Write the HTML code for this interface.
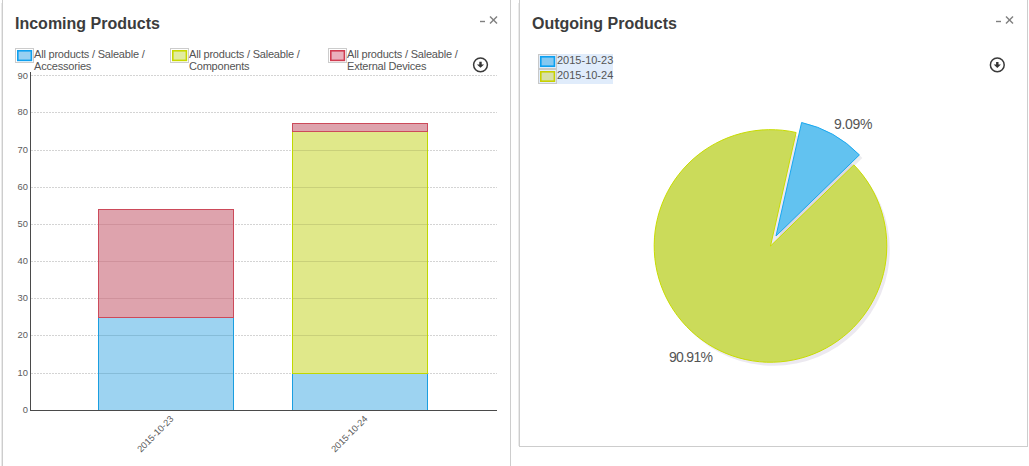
<!DOCTYPE html>
<html><head><meta charset="utf-8">
<style>
html,body{margin:0;padding:0;background:#fff;}
body{width:1029px;height:466px;position:relative;overflow:hidden;font-family:"Liberation Sans",sans-serif;color:#545454;}
.abs{position:absolute;white-space:nowrap;}
.title{font-size:16px;font-weight:bold;color:#3c3c3c;}
.lg{font-size:11px;line-height:12px;color:#545454;letter-spacing:-0.2px;}
.ylab{font-size:9.4px;line-height:10px;color:#5c5c5c;text-align:right;width:20px;}
.ctl{font-size:12px;color:#999;}
</style></head><body>
<!-- panels -->
<div class="abs" style="left:1px;top:3px;width:1px;height:463px;background:#eaeaea"></div>
<div class="abs" style="left:2px;top:0;width:1px;height:466px;background:#cdcdcd"></div>
<div class="abs" style="left:510px;top:0;width:1px;height:466px;background:#cdcdcd"></div>
<div class="abs" style="left:518px;top:3px;width:1px;height:443px;background:#eaeaea"></div>
<div class="abs" style="left:519px;top:-10px;width:507px;height:456px;border:1px solid #cdcdcd;border-top:none"></div>

<div class="abs title" style="left:15px;top:15px">Incoming Products</div>
<div class="abs title" style="left:532px;top:15px">Outgoing Products</div>

<svg class="abs" style="left:0;top:0" width="1029" height="466" viewBox="0 0 1029 466">
  <!-- controls -->
  <g stroke="#808080" stroke-width="1.4" fill="none">
    <line x1="480" y1="21.5" x2="485" y2="21.5"/>
    <line x1="490" y1="16.5" x2="497" y2="23.5"/><line x1="497" y1="16.5" x2="490" y2="23.5"/>
    <line x1="996" y1="21.5" x2="1001" y2="21.5"/>
    <line x1="1006" y1="16.5" x2="1013" y2="23.5"/><line x1="1013" y1="16.5" x2="1006" y2="23.5"/>
  </g>
  <!-- download icons -->
  <g>
    <circle cx="480.5" cy="64.8" r="6.9" fill="none" stroke="#3a3a3a" stroke-width="1.5"/>
    <path d="M479.3 61.8h2.4v2.6h2.4l-3.6 3.4-3.6-3.4h2.4z" fill="#333"/>
    <circle cx="997.3" cy="64.9" r="6.9" fill="none" stroke="#3a3a3a" stroke-width="1.5"/>
    <path d="M996.1 61.9h2.4v2.6h2.4l-3.6 3.4-3.6-3.4h2.4z" fill="#333"/>
  </g>
  <!-- grid -->
  <g stroke="#d4d4d4" stroke-width="1" stroke-dasharray="2,1">
    <line x1="31" y1="75.5" x2="497" y2="75.5"/>
    <line x1="31" y1="112.5" x2="497" y2="112.5"/>
    <line x1="31" y1="150.5" x2="497" y2="150.5"/>
    <line x1="31" y1="187.5" x2="497" y2="187.5"/>
    <line x1="31" y1="224.5" x2="497" y2="224.5"/>
    <line x1="31" y1="261.5" x2="497" y2="261.5"/>
    <line x1="31" y1="298.5" x2="497" y2="298.5"/>
    <line x1="31" y1="335.5" x2="497" y2="335.5"/>
    <line x1="31" y1="373.5" x2="497" y2="373.5"/>
  </g>
  <!-- bars -->
  <rect x="98" y="317" width="136" height="94" fill="#9dd3f1"/>
  <rect x="98" y="209" width="136" height="108" fill="#dea3ad"/>
  <rect x="292" y="373" width="136" height="38" fill="#9dd3f1"/>
  <rect x="292" y="131" width="136" height="242" fill="#e0e88a"/>
  <rect x="292" y="123" width="136" height="8" fill="#dea3ad"/>
  <g stroke-width="1">
    <line x1="99" y1="224.5" x2="233" y2="224.5" stroke="#cf929c"/>
    <line x1="99" y1="261.5" x2="233" y2="261.5" stroke="#cf929c"/>
    <line x1="99" y1="298.5" x2="233" y2="298.5" stroke="#cf929c"/>
    <line x1="99" y1="335.5" x2="233" y2="335.5" stroke="#86bcd8"/>
    <line x1="99" y1="373.5" x2="233" y2="373.5" stroke="#86bcd8"/>
    <line x1="293" y1="150.5" x2="427" y2="150.5" stroke="#c9d07a"/>
    <line x1="293" y1="187.5" x2="427" y2="187.5" stroke="#c9d07a"/>
    <line x1="293" y1="224.5" x2="427" y2="224.5" stroke="#c9d07a"/>
    <line x1="293" y1="261.5" x2="427" y2="261.5" stroke="#c9d07a"/>
    <line x1="293" y1="298.5" x2="427" y2="298.5" stroke="#c9d07a"/>
    <line x1="293" y1="335.5" x2="427" y2="335.5" stroke="#c9d07a"/>
  </g>
  <g stroke-width="1" fill="none">
    <rect x="98.5" y="317.5" width="135" height="93" stroke="#1a9ee0"/>
    <rect x="98.5" y="209.5" width="135" height="108" stroke="#cc4a5a"/>
    <rect x="292.5" y="373.5" width="135" height="37" stroke="#1a9ee0"/>
    <rect x="292.5" y="131.5" width="135" height="242" stroke="#c0d800"/>
    <rect x="292.5" y="123.5" width="135" height="8" stroke="#cc4a5a"/>
  </g>
  <!-- axes -->
  <g stroke="#4a4a4a" stroke-width="1">
    <line x1="30.5" y1="72" x2="30.5" y2="411"/>
    <line x1="30" y1="410.5" x2="497" y2="410.5"/>
  </g>
  <!-- legend boxes left -->
  <g>
    <rect x="15.5" y="48.5" width="18" height="14" fill="#fff" stroke="#ccc"/>
    <rect x="17.8" y="50.8" width="13.6" height="9.6" fill="#98d0f2" stroke="#10a0ee" stroke-width="1.6"/>
    <rect x="170.5" y="48.5" width="18" height="14" fill="#fff" stroke="#ccc"/>
    <rect x="172.8" y="50.8" width="13.6" height="9.6" fill="#e2eca0" stroke="#c8d800" stroke-width="1.6"/>
    <rect x="328.5" y="48.5" width="18" height="14" fill="#fff" stroke="#ccc"/>
    <rect x="330.8" y="50.8" width="13.6" height="9.6" fill="#eab0bc" stroke="#d03c50" stroke-width="1.6"/>
  </g>
  <!-- legend right -->
  <rect x="538" y="54" width="75" height="30" fill="#e0ecfb"/>
  <rect x="538.5" y="54.5" width="18" height="14" fill="none" stroke="#c8c8c8"/>
  <rect x="538.5" y="69.5" width="18" height="14" fill="none" stroke="#c8c8c8"/>
  <rect x="540.8" y="56.8" width="13.6" height="9.4" fill="#86c8f0" stroke="#0ca0f0" stroke-width="1.6"/>
  <rect x="540.8" y="71.8" width="13.6" height="9.4" fill="#d8e0a8" stroke="#c8d000" stroke-width="1.6"/>
  <!-- pie shadow -->
  <circle cx="773.5" cy="249.5" r="116.3" fill="rgba(70,40,110,0.1)"/>
  <path d="M 779 239 L 804.6 125.5 A 116.3 116.3 0 0 1 862.4 157.9 Z" fill="rgba(40,40,80,0.09)"/>
  <!-- pie -->
  <path d="M 770.5 246 L 853.9 164.9 A 116.3 116.3 0 1 1 796.1 132.5 Z" fill="#cbdb5a" stroke="#c8dc00" stroke-width="1"/>
  <path d="M 776 236 L 801.6 122.5 A 116.3 116.3 0 0 1 859.4 154.9 Z" fill="#62c2f0" stroke="#18a8f0" stroke-width="1"/>
</svg>

<!-- legend text left -->
<div class="abs lg" style="left:34px;top:48px">All products / Saleable /<br>Accessories</div>
<div class="abs lg" style="left:189px;top:48px">All products / Saleable /<br>Components</div>
<div class="abs lg" style="left:347px;top:48px">All products / Saleable /<br>External Devices</div>

<!-- y labels -->
<div class="abs ylab" style="left:8px;top:71px">90</div>
<div class="abs ylab" style="left:8px;top:107px">80</div>
<div class="abs ylab" style="left:8px;top:145px">70</div>
<div class="abs ylab" style="left:8px;top:182px">60</div>
<div class="abs ylab" style="left:8px;top:219px">50</div>
<div class="abs ylab" style="left:8px;top:256px">40</div>
<div class="abs ylab" style="left:8px;top:293px">30</div>
<div class="abs ylab" style="left:8px;top:330px">20</div>
<div class="abs ylab" style="left:8px;top:368px">10</div>
<div class="abs ylab" style="left:8px;top:405px">0</div>

<!-- x labels rotated -->
<div class="abs" style="left:131.5px;top:428.5px;font-size:9.2px;color:#5a5a5a;transform:rotate(-45deg);transform-origin:50% 50%">2015-10-23</div>
<div class="abs" style="left:325.5px;top:428.5px;font-size:9.2px;color:#5a5a5a;transform:rotate(-45deg);transform-origin:50% 50%">2015-10-24</div>

<!-- right legend text -->
<div class="abs" style="left:557px;top:53px;font-size:11px;line-height:15px;color:#545454">2015-10-23<br>2015-10-24</div>

<!-- pie labels -->
<div class="abs" style="left:834px;top:116px;font-size:14px;letter-spacing:-0.3px;color:#545454">9.09%</div>
<div class="abs" style="left:669px;top:349px;font-size:14px;letter-spacing:-0.7px;color:#545454">90.91%</div>
</body></html>
